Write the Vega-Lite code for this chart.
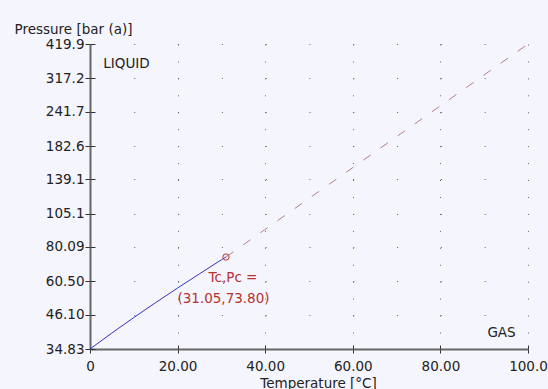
{
  "$schema": "https://vega.github.io/schema/vega-lite/v6.json",
  "width": 438,
  "height": 305,
  "autosize": {"type": "none"},
  "padding": {"left": 90, "top": 44, "right": 20, "bottom": 40},
  "background": "#f5f5fd",
  "config": {"view": {"stroke": null, "fill": "#f5f5fd"}, "font": "DejaVu Sans"},
  "datasets": {
    "sat": [
      {"T": 0, "P": 34.83},
      {"T": 5, "P": 39.69},
      {"T": 10, "P": 45.02},
      {"T": 15, "P": 50.87},
      {"T": 20, "P": 57.29},
      {"T": 25, "P": 64.34},
      {"T": 30, "P": 72.14},
      {"T": 31.05, "P": 73.8}
    ],
    "ext": [
      {"T": 31.05, "P": 73.8},
      {"T": 100, "P": 419.9}
    ],
    "crit": [{"T": 31.05, "P": 73.8}],
    "notes": [
      {"T": 8.33, "P": 358, "text": "LIQUID"},
      {"T": 93.95, "P": 39.69, "text": "GAS"}
    ]
  },
  "layer": [
    {
      "data": {"name": "sat"},
      "mark": {"type": "line", "color": "#3434c4", "strokeWidth": 1},
      "encoding": {
        "x": {
          "field": "T", "type": "quantitative",
          "scale": {"domain": [0, 100], "nice": false, "zero": false},
          "axis": {
            "values": [0, 20, 40, 60, 80, 100],
            "labelExpr": "datum.value == 0 ? '0' : format(datum.value, '.4r')",
            "title": "Temperature [°C]",
            "titleX": 228, "titleY": 38, "titleAlign": "center", "titleBaseline": "alphabetic",
            "titleFont": "DejaVu Sans", "titleFontSize": 13.5, "titleFontWeight": "normal", "titleColor": "#222",
            "labelFont": "DejaVu Sans", "labelFontSize": 13.5, "labelColor": "#222", "labelPadding": 6,
            "labelOverlap": false, "labelFlush": false,
            "tickSize": 4, "tickColor": "#333",
            "domainColor": "#666", "domainWidth": 2,
            "grid": true, "gridDash": [1, 15.94], "gridColor": "#666", "gridWidth": 1
          }
        },
        "y": {
          "field": "P", "type": "quantitative",
          "scale": {"type": "log", "domain": [34.83, 419.9], "nice": false},
          "axis": {
            "values": [34.83, 46.10, 60.50, 80.09, 105.1, 139.1, 182.6, 241.7, 317.2, 419.9],
            "format": ".4r",
            "title": "Pressure [bar (a)]",
            "titleAngle": 0, "titleAlign": "left", "titleBaseline": "alphabetic",
            "titleX": -76, "titleY": -11,
            "titleFont": "DejaVu Sans", "titleFontSize": 13.5, "titleFontWeight": "normal", "titleColor": "#222",
            "labelFont": "DejaVu Sans", "labelFontSize": 13.5, "labelColor": "#222", "labelPadding": 1,
            "labelOverlap": false, "labelFlush": false,
            "tickSize": 5, "tickColor": "#333",
            "domainColor": "#666", "domainWidth": 2,
            "grid": true, "gridDash": [1, 42.8], "gridColor": "#666", "gridWidth": 1
          }
        }
      }
    },
    {
      "data": {"name": "ext"},
      "mark": {"type": "line", "color": "#b58080", "strokeWidth": 1, "strokeDash": [9, 12]},
      "encoding": {
        "x": {
          "field": "T", "type": "quantitative",
          "axis": {"orient": "bottom", "offset": -4, "values": [0, 20, 40, 60, 80, 100], "tickSize": 4, "tickColor": "#333", "labels": false, "domain": false, "grid": false, "title": null}
        },
        "y": {
          "field": "P", "type": "quantitative",
          "axis": {"orient": "left", "offset": -5, "values": [34.83, 46.10, 60.50, 80.09, 105.1, 139.1, 182.6, 241.7, 317.2, 419.9], "tickSize": 5, "tickColor": "#333", "labels": false, "domain": false, "grid": false, "title": null}
        }
      }
    },
    {
      "data": {"name": "crit"},
      "mark": {"type": "point", "shape": "circle", "filled": false, "color": "#c03030", "size": 40, "strokeWidth": 1, "opacity": 1},
      "encoding": {
        "x": {"field": "T", "type": "quantitative", "axis": null},
        "y": {"field": "P", "type": "quantitative", "axis": null}
      }
    },
    {
      "data": {"name": "crit"},
      "mark": {"type": "text", "text": "Tc,Pc =", "color": "#b83030", "font": "DejaVu Sans", "fontSize": 13.5, "align": "center", "baseline": "middle", "dx": 7, "dy": 20.5},
      "encoding": {
        "x": {"field": "T", "type": "quantitative", "axis": null},
        "y": {"field": "P", "type": "quantitative", "axis": null}
      }
    },
    {
      "data": {"name": "crit"},
      "mark": {"type": "text", "text": "(31.05,73.80)", "color": "#b83030", "font": "DejaVu Sans", "fontSize": 13.5, "align": "center", "baseline": "middle", "dx": -2.5, "dy": 41.5},
      "encoding": {
        "x": {"field": "T", "type": "quantitative", "axis": null},
        "y": {"field": "P", "type": "quantitative", "axis": null}
      }
    },
    {
      "data": {"name": "notes"},
      "mark": {"type": "text", "color": "#222", "font": "DejaVu Sans", "fontSize": 13.5, "align": "center", "baseline": "middle"},
      "encoding": {
        "x": {"field": "T", "type": "quantitative", "axis": null},
        "y": {"field": "P", "type": "quantitative", "axis": null},
        "text": {"field": "text", "type": "nominal"}
      }
    }
  ],
  "resolve": {"axis": {"x": "independent", "y": "independent"}}
}
